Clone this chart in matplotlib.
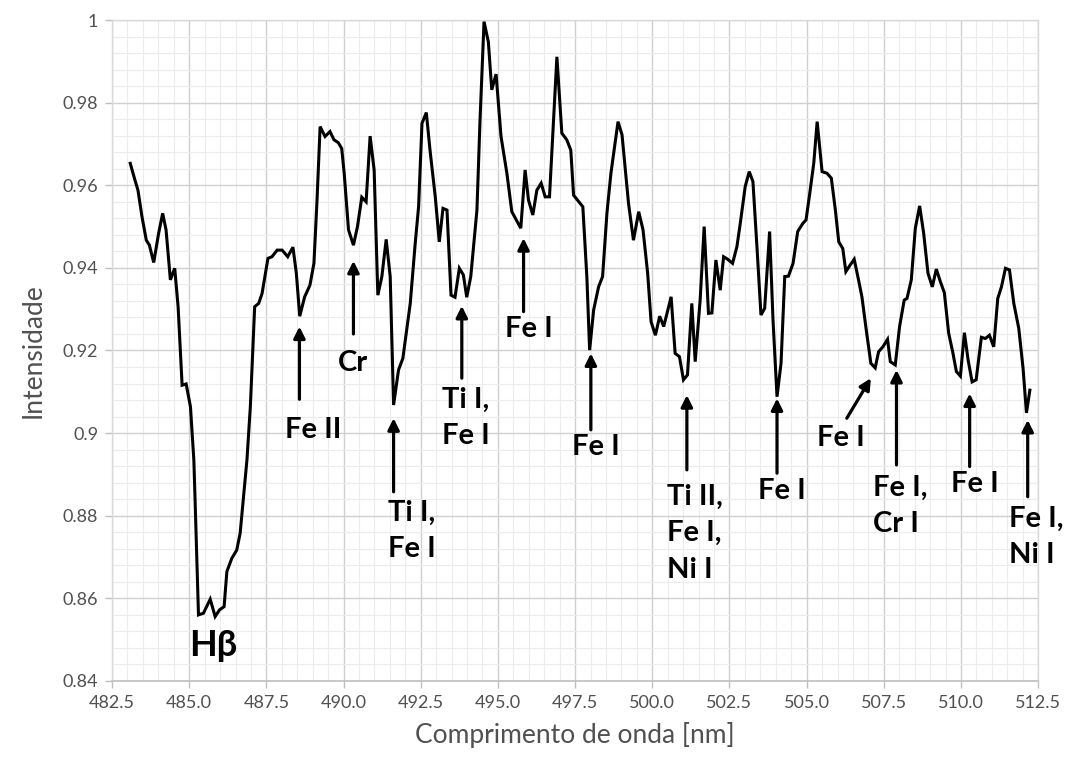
import numpy as np
import matplotlib
matplotlib.use("Agg")
import matplotlib.pyplot as plt
from matplotlib.ticker import MultipleLocator, FuncFormatter

# Solar spectrum segment around H-beta
wavelength = [
    483.09, 483.24, 483.34, 483.47, 483.61, 483.71, 483.85, 484.01, 484.14, 484.25,
    484.39, 484.53, 484.64, 484.77, 484.90, 485.04, 485.15, 485.19, 485.30, 485.46,
    485.68, 485.84, 485.98, 486.13, 486.22, 486.38, 486.54, 486.65, 486.75, 486.87,
    486.98, 487.12, 487.25, 487.36, 487.55, 487.68, 487.85, 488.01, 488.19, 488.36,
    488.47, 488.58, 488.74, 488.91, 489.04, 489.14, 489.24, 489.40, 489.56, 489.69,
    489.83, 489.94, 490.02, 490.16, 490.32, 490.45, 490.59, 490.73, 490.86, 490.99,
    491.11, 491.24, 491.38, 491.51, 491.62, 491.78, 491.92, 492.16, 492.32, 492.43,
    492.54, 492.68, 492.80, 492.97, 493.10, 493.22, 493.35, 493.48, 493.61, 493.75,
    493.88, 493.99, 494.12, 494.32, 494.42, 494.55, 494.69, 494.80, 494.94, 495.10,
    495.29, 495.45, 495.61, 495.74, 495.88, 495.99, 496.13, 496.26, 496.40, 496.53,
    496.67, 496.91, 497.07, 497.23, 497.36, 497.45, 497.58, 497.75, 497.88, 497.97,
    498.10, 498.26, 498.39, 498.53, 498.66, 498.89, 499.02, 499.23, 499.39, 499.56,
    499.70, 499.85, 499.96, 500.10, 500.24, 500.37, 500.61, 500.74, 500.88, 501.01,
    501.14, 501.28, 501.39, 501.55, 501.68, 501.82, 501.93, 502.06, 502.20, 502.31,
    502.44, 502.60, 502.74, 502.85, 503.01, 503.14, 503.26, 503.39, 503.52, 503.64,
    503.80, 503.91, 504.04, 504.17, 504.29, 504.41, 504.56, 504.71, 504.88, 504.98,
    505.10, 505.23, 505.34, 505.50, 505.66, 505.80, 505.93, 506.04, 506.17, 506.27,
    506.41, 506.54, 506.68, 506.79, 506.93, 507.08, 507.22, 507.33, 507.47, 507.62,
    507.71, 507.87, 508.01, 508.16, 508.25, 508.39, 508.52, 508.66, 508.79, 508.93,
    509.07, 509.20, 509.33, 509.46, 509.60, 509.74, 509.85, 509.98, 510.11, 510.23,
    510.36, 510.49, 510.66, 510.79, 510.92, 511.06, 511.19, 511.31, 511.44, 511.57,
    511.71, 511.87, 512.01, 512.12, 512.23,
]
intensity = [
    0.9653, 0.9613, 0.9588, 0.9524, 0.9467, 0.9455, 0.9413, 0.9484, 0.9532, 0.9492,
    0.9371, 0.9399, 0.9306, 0.9116, 0.9119, 0.9064, 0.8935, 0.8838, 0.8560, 0.8564,
    0.8598, 0.8556, 0.8572, 0.8580, 0.8665, 0.8697, 0.8717, 0.8758, 0.8838, 0.8935,
    0.9064, 0.9306, 0.9314, 0.9338, 0.9423, 0.9427, 0.9443, 0.9443, 0.9427, 0.9450,
    0.9387, 0.9283, 0.9330, 0.9358, 0.9411, 0.9564, 0.9742, 0.9718, 0.9730, 0.9710,
    0.9703, 0.9689, 0.9629, 0.9492, 0.9455, 0.9500, 0.9571, 0.9560, 0.9719, 0.9637,
    0.9334, 0.9379, 0.9469, 0.9379, 0.9068, 0.9153, 0.9181, 0.9314, 0.9459, 0.9548,
    0.9750, 0.9776, 0.9685, 0.9572, 0.9463, 0.9544, 0.9540, 0.9334, 0.9329, 0.9399,
    0.9383, 0.9329, 0.9379, 0.9540, 0.9758, 0.9996, 0.9947, 0.9831, 0.9869, 0.9718,
    0.9629, 0.9536, 0.9514, 0.9496, 0.9637, 0.9564, 0.9528, 0.9588, 0.9605, 0.9572,
    0.9572, 0.9911, 0.9726, 0.9710, 0.9685, 0.9576, 0.9564, 0.9548, 0.9379, 0.9201,
    0.9298, 0.9354, 0.9379, 0.9532, 0.9629, 0.9754, 0.9722, 0.9556, 0.9467, 0.9536,
    0.9492, 0.9387, 0.9270, 0.9237, 0.9283, 0.9258, 0.9330, 0.9193, 0.9185, 0.9129,
    0.9141, 0.9314, 0.9173, 0.9322, 0.9500, 0.9290, 0.9291, 0.9419, 0.9346, 0.9427,
    0.9421, 0.9411, 0.9451, 0.9508, 0.9597, 0.9633, 0.9609, 0.9451, 0.9286, 0.9302,
    0.9488, 0.9274, 0.9088, 0.9169, 0.9379, 0.9380, 0.9411, 0.9488, 0.9508, 0.9516,
    0.9580, 0.9653, 0.9754, 0.9633, 0.9629, 0.9617, 0.9540, 0.9463, 0.9447, 0.9391,
    0.9407, 0.9421, 0.9371, 0.9330, 0.9250, 0.9169, 0.9158, 0.9197, 0.9209, 0.9227,
    0.9173, 0.9165, 0.9258, 0.9322, 0.9326, 0.9371, 0.9496, 0.9550, 0.9484, 0.9387,
    0.9354, 0.9397, 0.9367, 0.9340, 0.9242, 0.9193, 0.9149, 0.9138, 0.9243, 0.9177,
    0.9124, 0.9129, 0.9232, 0.9229, 0.9237, 0.9209, 0.9326, 0.9354, 0.9399, 0.9395,
    0.9314, 0.9254, 0.9157, 0.9049, 0.9104,
]

# Identified absorption lines
line_labels = ["Fe II", "Cr", "Ti I,\nFe I", "Ti I,\nFe I", "Fe I", "Fe I",
               "Ti II,\nFe I,\nNi I", "Fe I", "Fe I", "Fe I,\nCr I", "Fe I",
               "Fe I,\nNi I"]
line_wavelengths = [488.57, 490.32, 491.62, 493.83, 495.83, 498.01,
                    501.12, 504.04, 507.08, 507.91, 510.28, 512.16]

# Arrow tail and label placement for each line (data coordinates)
arrow_tails = [(488.57, 0.9082), (490.32, 0.9240), (491.62, 0.8858),
               (493.83, 0.9133), (495.83, 0.9294), (498.01, 0.9008),
               (501.12, 0.8911), (504.04, 0.8903), (506.30, 0.9036),
               (507.91, 0.8923), (510.28, 0.8919), (512.16, 0.8846)]
arrow_tips_y = [0.9258, 0.9417, 0.9036, 0.9308, 0.9472, 0.9193,
                0.9092, 0.9084, 0.9133, 0.9153, 0.9096, 0.9032]
text_pos = [(489.01, 0.9007, "center"), (490.29, 0.9170, "center"),
            (491.44, 0.8763, "left"), (493.18, 0.9037, "left"),
            (496.01, 0.9252, "center"), (498.18, 0.8966, "center"),
            (500.48, 0.8758, "left"), (504.21, 0.8860, "center"),
            (506.12, 0.8988, "center"), (507.16, 0.8824, "left"),
            (510.46, 0.8877, "center"), (511.57, 0.8749, "left")]

font = ["Lato", "DejaVu Sans"]
plt.rcParams["font.family"] = font
grey_text = "#505050"

fig = plt.figure(figsize=(10.67, 7.58), dpi=100)
ax = fig.add_axes([0.105, 0.1016, 0.868, 0.872])

ax.plot(wavelength, intensity, color="black", lw=2.2, solid_joinstyle="miter", zorder=3)

ax.set_xlim(482.5, 512.5)
ax.set_ylim(0.84, 1.0)
ax.xaxis.set_major_locator(MultipleLocator(2.5))
ax.xaxis.set_minor_locator(MultipleLocator(0.5))
ax.yaxis.set_major_locator(MultipleLocator(0.02))
ax.yaxis.set_minor_locator(MultipleLocator(0.004))
ax.xaxis.set_major_formatter(FuncFormatter(lambda v, p: f"{v:.1f}"))
ax.yaxis.set_major_formatter(FuncFormatter(lambda v, p: f"{v:.2f}".rstrip("0").rstrip(".")))

ax.grid(which="major", color="#d0d0d0", lw=1.0, zorder=0)
ax.grid(which="minor", color="#ececec", lw=0.8, zorder=0)
ax.set_axisbelow(True)

for side in ["top", "right", "left"]:
    ax.spines[side].set_color("#d9d9d9")
    ax.spines[side].set_linewidth(1.0)
ax.spines["bottom"].set_color("#bfbfbf")
ax.spines["bottom"].set_linewidth(1.2)

ax.tick_params(axis="both", which="major", direction="out", length=5, width=1,
               color="#bfbfbf", labelsize=13, labelcolor=grey_text, pad=5)
ax.tick_params(axis="both", which="minor", length=0)

ax.set_xlabel("Comprimento de onda [nm]", fontsize=19, color=grey_text, labelpad=8)
ax.set_ylabel("Intensidade", fontsize=19, color=grey_text, labelpad=12)

ann_font = dict(fontweight="bold", color="black", family=font)

for label, lw_x, tail, tip_y, (tx, ty, ha) in zip(line_labels, line_wavelengths,
                                                   arrow_tails, arrow_tips_y, text_pos):
    ax.annotate("", xy=(lw_x, tip_y), xytext=tail,
                arrowprops=dict(arrowstyle="-|>", color="black", lw=2.3,
                                mutation_scale=17, shrinkA=0, shrinkB=0),
                zorder=4)
    ax.text(tx, ty, label, ha=ha, va="center", multialignment="left",
            linespacing=1.5, fontsize=21, **ann_font)

ax.text(485.77, 0.8487, "H\u03b2", ha="center", va="center", fontsize=26, **ann_font)

fig.savefig("out.png", dpi=100)
